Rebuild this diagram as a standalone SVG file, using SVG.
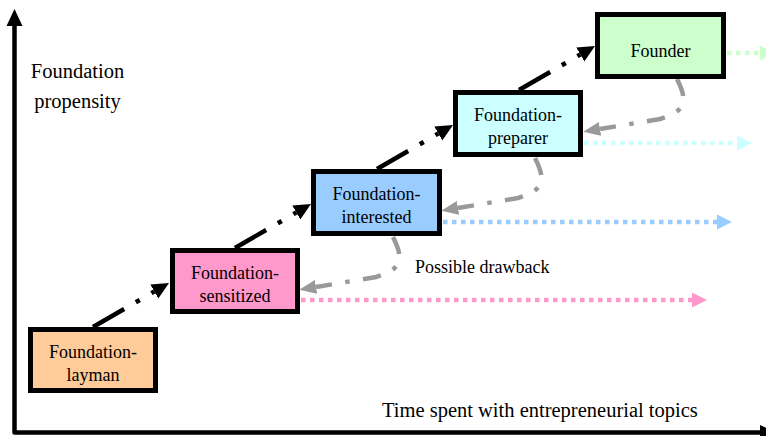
<svg xmlns="http://www.w3.org/2000/svg" width="766" height="436" viewBox="0 0 766 436">
  <style>
    text { font-family: 'Liberation Serif', 'Times New Roman', Times, serif; fill: #000; }
    .axis-label { font-size: 20.5px; }
    .node-text { font-size: 18px; text-anchor: middle; }
    .box { stroke: #000; stroke-width: 5; }
    .step { fill: none; stroke: #000; stroke-width: 4.5; stroke-dasharray: 36 13.5 4.5 13.5; }
    .back { fill: none; stroke: #999; stroke-width: 4.5; stroke-dasharray: 18 13.5 4.5 13.5; }
    .trend { fill: none; stroke-width: 4.5; stroke-dasharray: 4.5 4.5; }
  </style>
  <defs>
    <marker id="head-black" markerUnits="userSpaceOnUse" markerWidth="20" markerHeight="18" refX="0" refY="8" orient="auto">
      <path d="M0,0 L17,8 L0,16 Z" fill="#000"/>
    </marker>
    <marker id="head-gray" markerUnits="userSpaceOnUse" markerWidth="20" markerHeight="18" refX="0" refY="8" orient="auto">
      <path d="M0,1 L17,8 L0,15 Z" fill="#999"/>
    </marker>
  </defs>

  <rect width="766" height="436" fill="#fff"/>

  <!-- axes -->
  <g id="axes" font-family="'Liberation Serif', 'Times New Roman', serif">
    <path d="M14.5,24 L14.5,432.5 L762,432.5" fill="none" stroke="#000" stroke-width="4.5" stroke-linejoin="round"/>
    <path d="M14.5,9 L6.5,26 L22.5,26 Z" fill="#000"/>
    <path d="M760,425 L777,432.5 L760,440 Z" fill="#000"/>
    <text class="axis-label" x="77.5" y="78" text-anchor="middle">Foundation</text>
    <text class="axis-label" x="77.5" y="108" text-anchor="middle">propensity</text>
    <text class="axis-label" x="382" y="417">Time spent with entrepreneurial topics</text>
  </g>

  <!-- connectors -->
  <g id="connectors" font-family="'Liberation Serif', 'Times New Roman', serif">
    <!-- progression between stages -->
    <path class="step" d="M93,327 L154.3,291.5" marker-end="url(#head-black)"/>
    <path class="step" d="M235,248 L296.3,212.5" marker-end="url(#head-black)"/>
    <path class="step" d="M377,169 L438.3,133.5" marker-end="url(#head-black)"/>
    <path class="step" d="M519,90 L580.3,54.5" marker-end="url(#head-black)"/>

    <!-- drawbacks to the previous stage -->
    <path class="back" d="M677,79 C687,99 688,111 660,119 L600,129" marker-end="url(#head-gray)"/>
    <path class="back" d="M535,158 C545,178 546,190 518,198 L458,208" marker-end="url(#head-gray)"/>
    <path class="back" d="M393,237 C403,257 404,269 376,277 L316,287" marker-end="url(#head-gray)"/>

    <!-- persistence over time -->
    <path class="trend" d="M301,300 L692,300" stroke="#FF99CC"/>
    <path d="M692,292.5 L707,300 L692,307.5 Z" fill="#FF99CC"/>
    <path class="trend" d="M443,222 L717,222" stroke="#99CCFF"/>
    <path d="M717,214.5 L732,222 L717,229.5 Z" fill="#99CCFF"/>
    <path class="trend" d="M584,143 L737,143" stroke="#CCFFFF"/>
    <path d="M737,135.5 L752,143 L737,150.5 Z" fill="#CCFFFF"/>
    <path class="trend" d="M727,53 L760,53" stroke="#CCFFCC"/>
    <path d="M760,45.5 L775,53 L760,60.5 Z" fill="#CCFFCC"/>

    <text x="415" y="273" font-size="18">Possible drawback</text>
  </g>

  <!-- stages -->
  <g id="layman" font-family="'Liberation Serif', 'Times New Roman', serif">
    <rect class="box" x="30.5" y="329.5" width="125" height="61" fill="#FFCC99"/>
    <text class="node-text" x="93" y="358">Foundation-</text>
    <text class="node-text" x="93" y="381">layman</text>
  </g>
  <g id="sensitized" font-family="'Liberation Serif', 'Times New Roman', serif">
    <rect class="box" x="172.5" y="250.5" width="125" height="61" fill="#FF99CC"/>
    <text class="node-text" x="235" y="279">Foundation-</text>
    <text class="node-text" x="235" y="302">sensitized</text>
  </g>
  <g id="interested" font-family="'Liberation Serif', 'Times New Roman', serif">
    <rect class="box" x="313.5" y="171.5" width="126" height="62" fill="#99CCFF"/>
    <text class="node-text" x="376.5" y="200">Foundation-</text>
    <text class="node-text" x="376.5" y="223">interested</text>
  </g>
  <g id="preparer" font-family="'Liberation Serif', 'Times New Roman', serif">
    <rect class="box" x="455.5" y="92.5" width="125" height="62" fill="#CCFFFF"/>
    <text class="node-text" x="518" y="121">Foundation-</text>
    <text class="node-text" x="518" y="144">preparer</text>
  </g>
  <g id="founder" font-family="'Liberation Serif', 'Times New Roman', serif">
    <rect class="box" x="597.5" y="14.5" width="126" height="62" fill="#CCFFCC"/>
    <text class="node-text" x="660.5" y="57">Founder</text>
  </g>
</svg>
